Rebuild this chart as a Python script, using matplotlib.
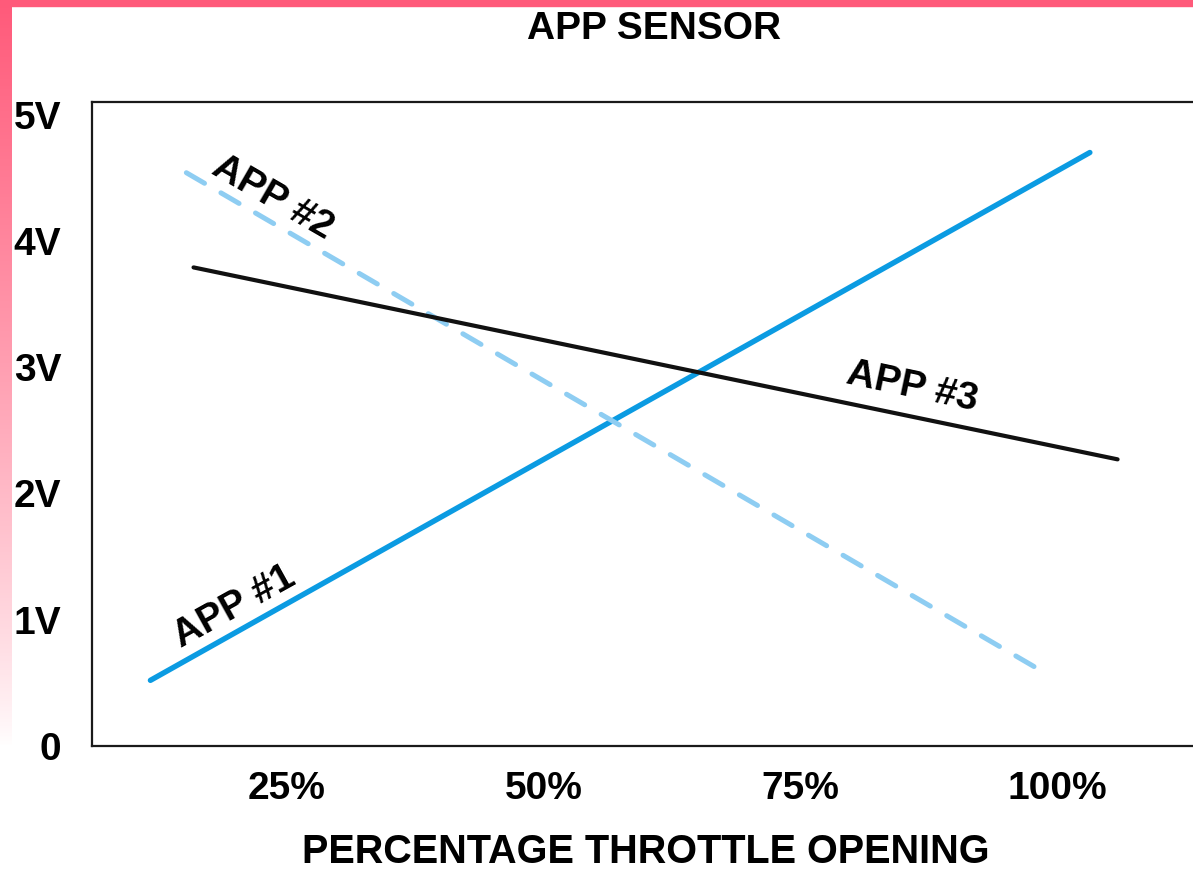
import numpy as np
import matplotlib
matplotlib.use("Agg")
import matplotlib.pyplot as plt
from matplotlib.colors import LinearSegmentedColormap

plt.rcParams['font.family'] = ['Liberation Sans', 'DejaVu Sans']
plt.rcParams['font.weight'] = 'bold'

# データ (スロットル開度 %, 電圧 V)
app1_x = [11.7, 103.2]
app1_y = [0.52, 4.70]
app2_x = [15.2, 98.8]
app2_y = [4.54, 0.58]
app3_x = [15.9, 105.9]
app3_y = [3.79, 2.27]

x_ticks = [25, 50, 75, 100]
x_labels = ['25%', '50%', '75%', '100%']
y_ticks = [0, 1, 2, 3, 4, 5]
y_labels = ['0', '1V', '2V', '3V', '4V', '5V']

W, H = 1193, 872
fig = plt.figure(figsize=(W / 100, H / 100), dpi=100)
fig.patch.set_facecolor('white')

# ピンクの枠 (上は単色, 左はグラデーション)
pink = '#ff5a7a'
fig.patches.append(plt.Rectangle((0, 1 - 6 / H), 1, 6 / H, transform=fig.transFigure,
                                 color=pink, zorder=0))
bg = fig.add_axes([0, 0, 12 / W, 1], zorder=0)
rows = np.arange(H)
grad = np.clip(1 - rows / 745.0, 0, 1) ** 0.8
grad = grad.reshape(-1, 1)
cmap = LinearSegmentedColormap.from_list('pk', ['#ffffff', pink])
bg.imshow(grad, aspect='auto', cmap=cmap, vmin=0, vmax=1, extent=[0, 1, 0, 1])
bg.axis('off')

# 軸の配置
px0, px_per = 30.3, 10.267
xmin, xmax = 6.0, 115.0
left = (px0 + px_per * xmin) / W
right = (px0 + px_per * xmax) / W
bottom = 1 - 746 / H
top = 1 - 102 / H
ax = fig.add_axes([left, bottom, right - left, top - bottom], zorder=1)
ax.set_xlim(xmin, xmax)
ax.set_ylim(0, 5.10)

ax.plot(app1_x, app1_y, color='#0b9be2', lw=3.9, solid_capstyle='round')
ax.plot(app2_x, app2_y, color='#8ecdf2', lw=3.6, dashes=(4.2, 3.8),
        dash_capstyle='round')
ax.plot(app3_x, app3_y, color='#111111', lw=3.0, solid_capstyle='round')

ax.text(19.9, 1.10, 'APP #1', rotation=29, ha='center', va='center',
        fontsize=28, fontweight='bold', rotation_mode='anchor')
ax.text(23.6, 4.34, 'APP #2', rotation=-30, ha='center', va='center',
        fontsize=28, fontweight='bold', rotation_mode='anchor')
ax.text(85.9, 2.84, 'APP #3', rotation=-12, ha='center', va='center',
        fontsize=28, fontweight='bold', rotation_mode='anchor')

ax.set_xticks(x_ticks)
ax.set_xticklabels(x_labels, fontsize=28, fontweight='bold')
ax.set_yticks(y_ticks)
ax.set_yticklabels(y_labels, fontsize=28, fontweight='bold')
ax.tick_params(axis='both', length=0)
ax.tick_params(axis='x', pad=18)
ax.tick_params(axis='y', pad=22)

for s in ['left', 'top', 'bottom']:
    ax.spines[s].set_linewidth(1.6)
    ax.spines[s].set_color('#1a1a1a')
ax.spines['right'].set_visible(False)

fig.text(654 / W, 1 - 29 / H, 'APP SENSOR', ha='center', va='center',
         fontsize=28, fontweight='bold')
fig.text(646 / W, 1 - 852 / H, 'PERCENTAGE THROTTLE OPENING', ha='center',
         va='center', fontsize=28.5, fontweight='bold')

fig.savefig('out.png', dpi=100, facecolor='white')
